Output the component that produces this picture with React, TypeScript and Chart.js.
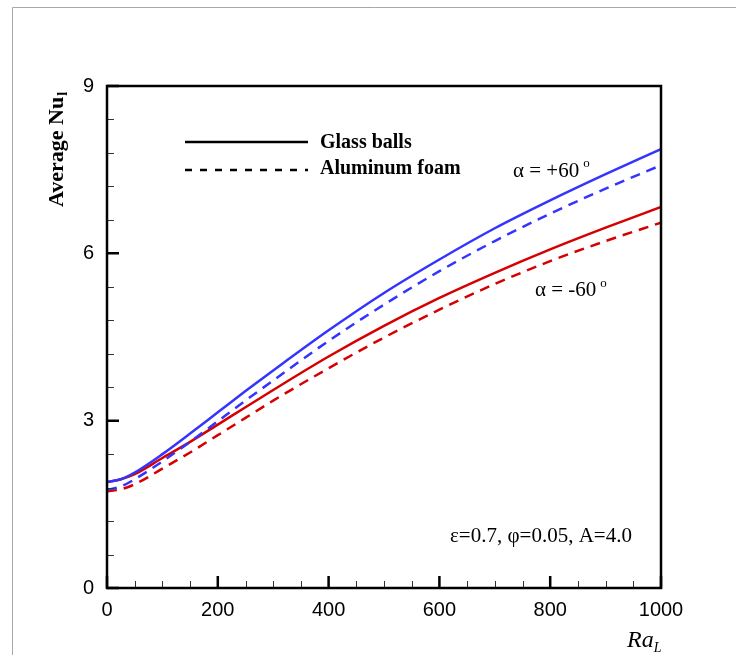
import React, { useEffect, useRef } from "react";
import { Chart, registerables } from "chart.js";

Chart.register(...registerables);

const raValues = [0, 25, 50, 100, 150, 200, 250, 300, 400, 500, 600, 700, 800, 900, 1000];
const glassPlus60 = [1.9, 1.95, 2.07, 2.4, 2.77, 3.15, 3.53, 3.9, 4.62, 5.29, 5.89, 6.45, 6.95, 7.42, 7.87];
const foamPlus60 = [1.76, 1.82, 1.95, 2.27, 2.62, 2.99, 3.36, 3.72, 4.43, 5.08, 5.68, 6.22, 6.71, 7.16, 7.58];
const glassMinus60 = [1.9, 1.95, 2.04, 2.33, 2.62, 2.93, 3.24, 3.55, 4.15, 4.7, 5.2, 5.65, 6.07, 6.46, 6.83];
const foamMinus60 = [1.73, 1.77, 1.86, 2.14, 2.43, 2.74, 3.05, 3.36, 3.94, 4.49, 4.99, 5.45, 5.86, 6.22, 6.55];

const xMajorStep = 200;
const xMinorStep = 50;
const yMajorStep = 3;
const yMinorStep = 0.6;

const legendLabels = ["Glass balls", "Aluminum foam"];
const yTitle = "Average Nu";
const yTitleSub = "l";
const xTitle = "Ra";
const xTitleSub = "L";
const labelPlus = "\u03b1 = +60";
const labelMinus = "\u03b1 = -60";
const paramText = "\u03b5=0.7, \u03c6=0.05, A=4.0";

const BLUE = "#3434ff";
const RED = "#d60000";
const SERIF = "'Liberation Serif', 'Times New Roman', serif";
const SANS = "'Liberation Sans', Arial, sans-serif";

const toPoints = (ys: number[]) => raValues.map((x, i) => ({ x, y: ys[i] }));

const decorPlugin = {
  id: "decor",
  beforeDraw(chart: any) {
    const ctx = chart.ctx;
    ctx.save();
    ctx.strokeStyle = "#a8a8a8";
    ctx.lineWidth = 1;
    ctx.beginPath();
    ctx.moveTo(12.5, 655);
    ctx.lineTo(12.5, 7.5);
    ctx.lineTo(736, 7.5);
    ctx.stroke();
    ctx.restore();
  },
  afterDatasetsDraw(chart: any) {
    const ctx = chart.ctx;
    const area = chart.chartArea;
    const xs = chart.scales.x;
    const ys = chart.scales.y;
    ctx.save();
    ctx.strokeStyle = "#333";
    ctx.lineWidth = 1;
    ctx.beginPath();
    for (let v = 0; v <= 1000 + 1e-6; v += xMinorStep) {
      if (Math.abs(v % xMajorStep) < 1e-6) continue;
      const px = Math.round(xs.getPixelForValue(v)) + 0.5;
      ctx.moveTo(px, area.bottom);
      ctx.lineTo(px, area.bottom - 7);
    }
    for (let i = 0; i * yMinorStep <= 9 + 1e-6; i++) {
      const v = i * yMinorStep;
      if (i % 5 === 0) continue;
      const py = Math.round(ys.getPixelForValue(v)) + 0.5;
      ctx.moveTo(area.left, py);
      ctx.lineTo(area.left + 7, py);
    }
    ctx.stroke();
    ctx.strokeStyle = "#000";
    ctx.lineWidth = 2.5;
    ctx.beginPath();
    for (let v = 0; v <= 1000; v += xMajorStep) {
      const px = xs.getPixelForValue(v);
      ctx.moveTo(px, area.bottom);
      ctx.lineTo(px, area.bottom - 12);
    }
    for (let v = 0; v <= 9; v += yMajorStep) {
      const py = ys.getPixelForValue(v);
      ctx.moveTo(area.left, py);
      ctx.lineTo(area.left + 12, py);
    }
    ctx.stroke();
    ctx.lineWidth = 2.5;
    ctx.strokeRect(area.left, area.top, area.right - area.left, area.bottom - area.top);
    ctx.restore();
  },
  afterDraw(chart: any) {
    const ctx = chart.ctx;
    ctx.save();
    ctx.fillStyle = "#000";
    ctx.textBaseline = "alphabetic";
    ctx.textAlign = "left";

    ctx.strokeStyle = "#000";
    ctx.lineWidth = 2.5;
    ctx.beginPath();
    ctx.moveTo(185, 142);
    ctx.lineTo(308, 142);
    ctx.stroke();
    ctx.setLineDash([7, 8]);
    ctx.beginPath();
    ctx.moveTo(185, 170);
    ctx.lineTo(308, 170);
    ctx.stroke();
    ctx.setLineDash([]);
    ctx.font = `bold 20px ${SERIF}`;
    ctx.fillText(legendLabels[0], 320, 148);
    ctx.fillText(legendLabels[1], 320, 174);

    ctx.font = `21px ${SERIF}`;
    ctx.fillText(labelPlus, 513, 177);
    let w = ctx.measureText(labelPlus).width;
    ctx.font = `13px ${SERIF}`;
    ctx.fillText("o", 513 + w + 4, 167);
    ctx.font = `21px ${SERIF}`;
    ctx.fillText(labelMinus, 535, 296);
    w = ctx.measureText(labelMinus).width;
    ctx.font = `13px ${SERIF}`;
    ctx.fillText("o", 535 + w + 4, 287);

    ctx.font = `21px ${SERIF}`;
    ctx.fillText(paramText, 450, 542);

    ctx.font = `italic 24px ${SERIF}`;
    ctx.fillText(xTitle, 627, 647);
    w = ctx.measureText(xTitle).width;
    ctx.font = `italic 14px ${SERIF}`;
    ctx.fillText(xTitleSub, 627 + w, 652);

    ctx.translate(63, 207);
    ctx.rotate(-Math.PI / 2);
    ctx.font = `bold 22px ${SERIF}`;
    ctx.fillText(yTitle, 0, 0);
    w = ctx.measureText(yTitle).width;
    ctx.font = `bold 14px ${SERIF}`;
    ctx.fillText(yTitleSub, w + 1, 4);
    ctx.restore();
  },
};

export default function App() {
  const ref = useRef<HTMLCanvasElement | null>(null);
  useEffect(() => {
    if (!ref.current) return;
    const ds = (label: string, data: number[], color: string, dashed: boolean) => ({
      label,
      data: toPoints(data),
      borderColor: color,
      backgroundColor: color,
      borderWidth: 2.5,
      borderDash: dashed ? [10, 7] : [],
      pointRadius: 0,
      cubicInterpolationMode: "monotone" as const,
      fill: false,
    });
    const chart = new Chart(ref.current, {
      type: "line",
      data: {
        datasets: [
          ds("Glass balls, +60", glassPlus60, BLUE, false),
          ds("Aluminum foam, +60", foamPlus60, BLUE, true),
          ds("Glass balls, -60", glassMinus60, RED, false),
          ds("Aluminum foam, -60", foamMinus60, RED, true),
        ],
      },
      options: {
        animation: false,
        responsive: false,
        devicePixelRatio: 1,
        layout: { padding: { left: 0, right: 75, top: 86, bottom: 0 } },
        plugins: { legend: { display: false }, tooltip: { enabled: false }, title: { display: false } },
        scales: {
          x: {
            type: "linear",
            min: 0,
            max: 1000,
            grid: { display: false, drawTicks: false },
            border: { display: false },
            ticks: {
              stepSize: xMajorStep,
              color: "#000",
              padding: 10,
              font: { family: SANS, size: 20 },
              maxRotation: 0,
              callback: (v: any) => String(v),
            },
            afterFit: (s: any) => {
              s.height = 67;
            },
          },
          y: {
            type: "linear",
            min: 0,
            max: 9,
            grid: { display: false, drawTicks: false },
            border: { display: false },
            ticks: {
              stepSize: yMajorStep,
              color: "#000",
              padding: 13,
              font: { family: SANS, size: 20 },
              callback: (v: any) => String(v),
            },
            afterFit: (s: any) => {
              s.width = 107;
            },
          },
        },
      },
      plugins: [decorPlugin],
    });
    return () => chart.destroy();
  }, []);
  return (
    <div style={{ position: "absolute", left: 0, top: 0, width: 736, height: 655, background: "#fff" }}>
      <canvas ref={ref} width={736} height={655} style={{ width: 736, height: 655, display: "block" }} />
    </div>
  );
}
